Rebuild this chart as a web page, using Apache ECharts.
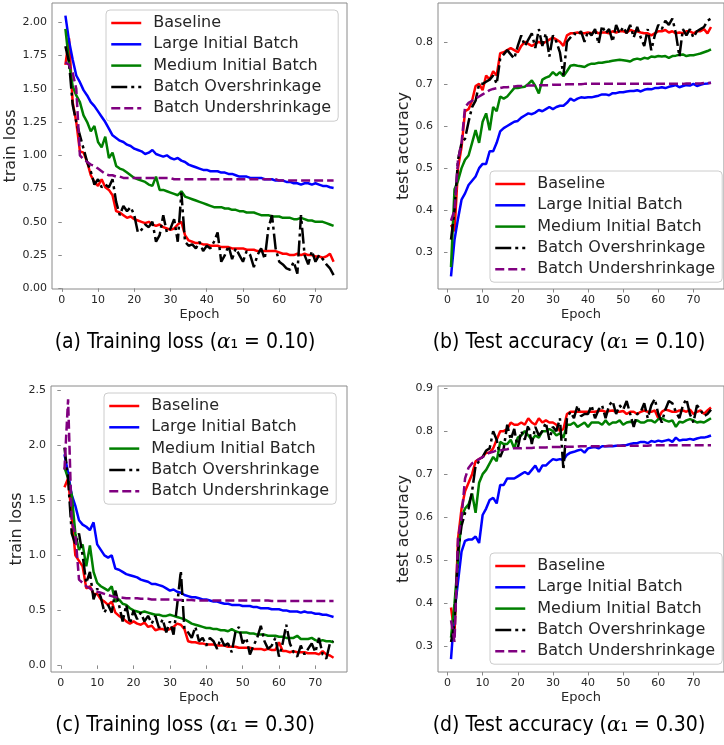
<!DOCTYPE html>
<html>
<head>
<meta charset="utf-8">
<script src="https://cdn.jsdelivr.net/npm/echarts@6/dist/echarts.min.js"></script>
<style>
  html, body { margin: 0; padding: 0; background: #ffffff; }
  #chart { width: 724px; height: 745px; }
</style>
</head>
<body>
<div id="chart"></div>
<script>
// ---- data -------------------------------------------------------------
const epochs = [
  1, 2, 3, 4, 5, 6, 7, 8, 9, 10, 11, 12, 13, 14, 15, 16, 17, 18, 19, 20,
  21, 22, 23, 24, 25, 26, 27, 28, 29, 30, 31, 32, 33, 34, 35, 36, 37, 38, 39, 40,
  41, 42, 43, 44, 45, 46, 47, 48, 49, 50, 51, 52, 53, 54, 55, 56, 57, 58, 59, 60,
  61, 62, 63, 64, 65, 66, 67, 68, 69, 70, 71, 72, 73, 74, 75
];

const seriesNames = ['Baseline', 'Large Initial Batch', 'Medium Initial Batch',
  'Batch Overshrinkage', 'Batch Undershrinkage'];

const epochTicks = [0, 10, 20, 30, 40, 50, 60, 70];
const lossTicksA = [0, 0.25, 0.5, 0.75, 1.0, 1.25, 1.5, 1.75, 2.0];
const accTicksB = [0.3, 0.4, 0.5, 0.6, 0.7, 0.8];
const lossTicksC = [0, 0.5, 1.0, 1.5, 2.0, 2.5];
const accTicksD = [0.3, 0.4, 0.5, 0.6, 0.7, 0.8, 0.9];

// (a) training loss, alpha1 = 0.10
const lossA_baseline = [
  1.68, 1.88, 1.40, 1.25, 1.03, 1.02, 0.95, 0.85, 0.80, 0.77,
  0.82, 0.76, 0.74, 0.70, 0.58, 0.57, 0.55, 0.53, 0.54, 0.52,
  0.51, 0.50, 0.49, 0.50, 0.48, 0.47, 0.48, 0.46, 0.45, 0.44,
  0.45, 0.48, 0.50, 0.40, 0.36, 0.35, 0.34, 0.34, 0.33, 0.33,
  0.32, 0.32, 0.32, 0.31, 0.31, 0.31, 0.30, 0.30, 0.30, 0.30,
  0.29, 0.29, 0.29, 0.28, 0.28, 0.28, 0.28, 0.28, 0.28, 0.27,
  0.26, 0.26, 0.25, 0.25, 0.26, 0.25, 0.26, 0.25, 0.25, 0.24,
  0.24, 0.23, 0.24, 0.26, 0.20
];
const lossA_large = [
  2.05, 1.86, 1.72, 1.60, 1.55, 1.49, 1.45, 1.40, 1.37, 1.33,
  1.29, 1.25, 1.20, 1.15, 1.13, 1.11, 1.10, 1.08, 1.07, 1.05,
  1.04, 1.03, 1.01, 1.02, 1.04, 1.01, 1.00, 0.99, 1.00, 0.98,
  0.97, 0.98, 0.96, 0.95, 0.93, 0.92, 0.91, 0.90, 0.89, 0.89,
  0.88, 0.88, 0.88, 0.87, 0.87, 0.86, 0.86, 0.85, 0.84, 0.84,
  0.84, 0.83, 0.83, 0.83, 0.83, 0.82, 0.82, 0.82, 0.81, 0.81,
  0.81, 0.80, 0.80, 0.79, 0.79, 0.78, 0.79, 0.79, 0.78, 0.79,
  0.78, 0.77, 0.77, 0.76, 0.755
];
const lossA_medium = [
  1.95, 1.70, 1.52, 1.45, 1.40, 1.30, 1.25, 1.18, 1.22, 1.10,
  1.06, 1.14, 0.98, 1.02, 0.92, 0.90, 0.89, 0.87, 0.85, 0.83,
  0.82, 0.81, 0.80, 0.78, 0.77, 0.84, 0.74, 0.74, 0.73, 0.72,
  0.71, 0.70, 0.73, 0.69, 0.68, 0.67, 0.66, 0.65, 0.64, 0.63,
  0.62, 0.61, 0.61, 0.61, 0.60, 0.60, 0.59, 0.59, 0.58, 0.58,
  0.57, 0.57, 0.57, 0.56, 0.55, 0.55, 0.55, 0.54, 0.54, 0.54,
  0.53, 0.53, 0.53, 0.52, 0.52, 0.53, 0.52, 0.51, 0.51, 0.50,
  0.50, 0.50, 0.49, 0.48, 0.47
];
const lossA_over = [
  1.82, 1.70, 1.38, 1.25, 1.15, 1.05, 0.95, 0.88, 0.78, 0.82,
  0.76, 0.78, 0.76, 0.82, 0.65, 0.55, 0.62, 0.58, 0.61, 0.55,
  0.42, 0.44, 0.48, 0.46, 0.50, 0.35, 0.40, 0.55, 0.42, 0.45,
  0.52, 0.35, 0.72, 0.35, 0.32, 0.33, 0.30, 0.35, 0.28, 0.32,
  0.30, 0.35, 0.42, 0.20, 0.25, 0.32, 0.22, 0.30, 0.25, 0.20,
  0.28, 0.25, 0.16, 0.25, 0.30, 0.22, 0.45, 0.55, 0.30, 0.20,
  0.18, 0.15, 0.14, 0.20, 0.11, 0.55, 0.25, 0.18, 0.28, 0.20,
  0.25, 0.22, 0.18, 0.15, 0.10
];
const lossA_under = [
  1.70, 1.68, 1.62, 1.50, 1.00, 0.97, 0.95, 0.93, 0.92, 0.90,
  0.88, 0.86, 0.85, 0.85, 0.84, 0.84, 0.83, 0.83, 0.83, 0.83,
  0.83, 0.83, 0.83, 0.83, 0.83, 0.83, 0.83, 0.83, 0.83, 0.83,
  0.82, 0.82, 0.82, 0.82, 0.82, 0.82, 0.82, 0.82, 0.82, 0.82,
  0.82, 0.82, 0.82, 0.82, 0.82, 0.82, 0.82, 0.82, 0.82, 0.82,
  0.82, 0.82, 0.82, 0.82, 0.82, 0.82, 0.82, 0.82, 0.82, 0.81,
  0.81, 0.81, 0.81, 0.81, 0.81, 0.81, 0.81, 0.81, 0.81, 0.81,
  0.81, 0.81, 0.81, 0.81, 0.81
];

// (b) test accuracy, alpha1 = 0.10
const accB_baseline = [
  0.365, 0.35, 0.50, 0.55, 0.635, 0.64, 0.66, 0.695, 0.70, 0.685,
  0.72, 0.71, 0.73, 0.72, 0.773, 0.775, 0.78, 0.785, 0.78, 0.775,
  0.79, 0.80, 0.795, 0.79, 0.795, 0.80, 0.795, 0.80, 0.805, 0.81,
  0.805, 0.80, 0.79, 0.815, 0.82, 0.82, 0.822, 0.82, 0.82, 0.822,
  0.82, 0.825, 0.82, 0.822, 0.822, 0.82, 0.825, 0.822, 0.825, 0.825,
  0.822, 0.828, 0.825, 0.825, 0.822, 0.82, 0.82, 0.815, 0.82, 0.825,
  0.825, 0.828, 0.822, 0.825, 0.82, 0.822, 0.82, 0.825, 0.825, 0.82,
  0.825, 0.825, 0.83, 0.82, 0.835
];
const accB_large = [
  0.243, 0.33, 0.38, 0.425, 0.44, 0.46, 0.47, 0.48, 0.50, 0.51,
  0.51, 0.54, 0.54, 0.56, 0.587, 0.595, 0.60, 0.605, 0.61, 0.612,
  0.62, 0.625, 0.63, 0.628, 0.632, 0.638, 0.635, 0.64, 0.645, 0.64,
  0.645, 0.648, 0.648, 0.655, 0.665, 0.66, 0.665, 0.668, 0.667, 0.668,
  0.668, 0.67, 0.672, 0.675, 0.675, 0.673, 0.678, 0.678, 0.68, 0.68,
  0.682, 0.683, 0.683, 0.685, 0.682, 0.686, 0.688, 0.687, 0.69, 0.69,
  0.692, 0.69, 0.693, 0.695, 0.697, 0.692, 0.695, 0.697, 0.696, 0.700,
  0.695, 0.698, 0.700, 0.701, 0.703
];
const accB_medium = [
  0.265, 0.45, 0.47, 0.50, 0.52, 0.53, 0.56, 0.59, 0.56, 0.61,
  0.63, 0.59, 0.645, 0.635, 0.67, 0.665, 0.67, 0.68, 0.69, 0.69,
  0.692, 0.693, 0.70, 0.708, 0.695, 0.677, 0.71, 0.715, 0.718, 0.728,
  0.72, 0.728, 0.718, 0.73, 0.743, 0.745, 0.743, 0.742, 0.74, 0.745,
  0.748, 0.748, 0.75, 0.75, 0.752, 0.753, 0.755, 0.756, 0.757, 0.756,
  0.755, 0.753, 0.758, 0.76, 0.758, 0.762, 0.76, 0.765, 0.764, 0.766,
  0.765, 0.766, 0.762, 0.766, 0.767, 0.769, 0.77, 0.766, 0.768, 0.768,
  0.77, 0.772, 0.775, 0.778, 0.782
];
const accB_over = [
  0.33, 0.40, 0.52, 0.56, 0.57, 0.61, 0.645, 0.66, 0.70, 0.70,
  0.705, 0.71, 0.72, 0.70, 0.76, 0.77, 0.78, 0.77, 0.76, 0.79,
  0.815, 0.79, 0.805, 0.82, 0.785, 0.83, 0.79, 0.82, 0.765, 0.815,
  0.80, 0.775, 0.72, 0.80, 0.81, 0.82, 0.815, 0.825, 0.80, 0.825,
  0.815, 0.83, 0.795, 0.838, 0.82, 0.83, 0.80, 0.84, 0.82, 0.835,
  0.82, 0.84, 0.81, 0.835, 0.81, 0.79, 0.83, 0.78, 0.815, 0.84,
  0.83, 0.85, 0.84, 0.855, 0.82, 0.765, 0.83, 0.815, 0.83, 0.81,
  0.825, 0.83, 0.835, 0.85, 0.855
];
const accB_under = [
  0.375, 0.40, 0.52, 0.56, 0.645, 0.655, 0.66, 0.665, 0.67, 0.675,
  0.68, 0.685, 0.688, 0.69, 0.69, 0.692, 0.692, 0.693, 0.694, 0.695,
  0.695, 0.695, 0.696, 0.696, 0.696, 0.697, 0.697, 0.697, 0.697, 0.698,
  0.698, 0.698, 0.698, 0.699, 0.699, 0.699, 0.699, 0.699, 0.70, 0.70,
  0.70, 0.70, 0.70, 0.70, 0.70, 0.70, 0.70, 0.70, 0.70, 0.70,
  0.70, 0.70, 0.70, 0.70, 0.70, 0.70, 0.70, 0.70, 0.70, 0.70,
  0.70, 0.70, 0.70, 0.70, 0.70, 0.70, 0.70, 0.701, 0.701, 0.701,
  0.701, 0.701, 0.702, 0.702, 0.702
];

// (c) training loss, alpha1 = 0.30
const lossC_baseline = [
  1.62, 1.70, 1.35, 1.00, 0.95, 0.90, 0.70, 0.72, 0.65, 0.65,
  0.60, 0.58, 0.55, 0.58, 0.48, 0.45, 0.43, 0.40, 0.38, 0.40,
  0.38, 0.37, 0.39, 0.35, 0.36, 0.32, 0.33, 0.33, 0.32, 0.33,
  0.35, 0.38, 0.37, 0.33, 0.22, 0.21, 0.21, 0.20, 0.20, 0.19,
  0.19, 0.19, 0.18, 0.18, 0.18, 0.17, 0.17, 0.17, 0.16, 0.16,
  0.16, 0.16, 0.15, 0.15, 0.15, 0.14, 0.15, 0.14, 0.14, 0.21,
  0.13, 0.13, 0.12, 0.13, 0.12, 0.12, 0.12, 0.11, 0.11, 0.11,
  0.10, 0.13, 0.10, 0.09, 0.07
];
const lossC_large = [
  1.92, 1.75, 1.55, 1.45, 1.32, 1.28, 1.26, 1.23, 1.30, 1.10,
  1.05, 1.00, 0.98, 1.00, 0.88, 0.87, 0.85, 0.83, 0.82, 0.81,
  0.80, 0.78, 0.77, 0.76, 0.74, 0.74, 0.73, 0.72, 0.70, 0.68,
  0.69, 0.67, 0.66, 0.64, 0.63, 0.62, 0.62, 0.61, 0.60, 0.60,
  0.59, 0.58, 0.58, 0.57, 0.56, 0.56, 0.55, 0.55, 0.55, 0.54,
  0.54, 0.54, 0.53, 0.53, 0.52, 0.52, 0.52, 0.51, 0.51, 0.51,
  0.50, 0.50, 0.49, 0.49, 0.49, 0.48, 0.49, 0.48, 0.48, 0.47,
  0.47, 0.46, 0.46, 0.45, 0.44
];
const lossC_medium = [
  1.80, 1.70, 1.55, 1.20, 1.05, 1.10, 0.90, 1.09, 0.85, 0.75,
  0.72, 0.70, 0.68, 0.72, 0.58, 0.60, 0.56, 0.55, 0.52, 0.50,
  0.49, 0.48, 0.49, 0.48, 0.47, 0.46, 0.46, 0.45, 0.45, 0.46,
  0.45, 0.44, 0.43, 0.42, 0.40, 0.38, 0.37, 0.36, 0.35, 0.34,
  0.34, 0.33, 0.33, 0.32, 0.32, 0.31, 0.33, 0.31, 0.30, 0.30,
  0.30, 0.29, 0.29, 0.28, 0.28, 0.28, 0.27, 0.27, 0.27, 0.26,
  0.26, 0.25, 0.25, 0.25, 0.27, 0.24, 0.24, 0.24, 0.25, 0.23,
  0.22, 0.23, 0.22, 0.22, 0.21
];
const lossC_over = [
  1.98, 1.70, 1.20, 1.10, 1.20, 1.00, 0.75, 0.85, 0.60, 0.70,
  0.62, 0.48, 0.55, 0.48, 0.68, 0.55, 0.40, 0.55, 0.38, 0.50,
  0.42, 0.48, 0.40, 0.45, 0.38, 0.45, 0.34, 0.42, 0.30, 0.40,
  0.28, 0.55, 0.86, 0.33, 0.30, 0.25, 0.35, 0.22, 0.25, 0.18,
  0.25, 0.22, 0.15, 0.25, 0.18, 0.20, 0.12, 0.30, 0.35, 0.20,
  0.25, 0.10, 0.18, 0.25, 0.36, 0.22, 0.15, 0.18, 0.25, 0.08,
  0.20, 0.37, 0.20, 0.12, 0.08, 0.18, 0.10, 0.15, 0.20, 0.12,
  0.25, 0.10, 0.06, 0.20, 0.22
];
const lossC_under = [
  1.78, 2.42, 1.30, 1.20, 0.78, 0.75, 0.72, 0.70, 0.68, 0.67,
  0.66, 0.65, 0.64, 0.63, 0.62, 0.62, 0.615, 0.61, 0.61, 0.61,
  0.61, 0.605, 0.605, 0.605, 0.60, 0.60, 0.60, 0.60, 0.60, 0.60,
  0.60, 0.595, 0.595, 0.595, 0.595, 0.595, 0.59, 0.59, 0.59, 0.59,
  0.59, 0.59, 0.59, 0.59, 0.59, 0.59, 0.59, 0.59, 0.59, 0.59,
  0.59, 0.59, 0.59, 0.59, 0.59, 0.59, 0.59, 0.585, 0.585, 0.585,
  0.585, 0.585, 0.585, 0.585, 0.585, 0.585, 0.585, 0.585, 0.585, 0.585,
  0.585, 0.585, 0.585, 0.585, 0.585
];

// (d) test accuracy, alpha1 = 0.30
const accD_baseline = [
  0.39, 0.33, 0.55, 0.62, 0.66, 0.68, 0.70, 0.73, 0.735, 0.74,
  0.75, 0.75, 0.76, 0.78, 0.80, 0.80, 0.805, 0.82, 0.815, 0.815,
  0.82, 0.815, 0.83, 0.82, 0.815, 0.83, 0.82, 0.825, 0.82, 0.82,
  0.815, 0.80, 0.805, 0.84, 0.845, 0.845, 0.845, 0.845, 0.845, 0.845,
  0.845, 0.845, 0.847, 0.848, 0.845, 0.847, 0.848, 0.845, 0.845, 0.847,
  0.84, 0.845, 0.845, 0.84, 0.845, 0.848, 0.845, 0.845, 0.848, 0.83,
  0.845, 0.85, 0.848, 0.845, 0.845, 0.848, 0.848, 0.845, 0.85, 0.84,
  0.845, 0.848, 0.84, 0.848, 0.855
];
const accD_large = [
  0.27, 0.38, 0.45, 0.52, 0.545, 0.548, 0.548, 0.555, 0.54, 0.605,
  0.62, 0.64, 0.645, 0.632, 0.675, 0.675, 0.69, 0.69, 0.69, 0.695,
  0.70, 0.705, 0.70, 0.71, 0.72, 0.705, 0.72, 0.72, 0.728, 0.735,
  0.733, 0.735, 0.733, 0.745, 0.75, 0.752, 0.755, 0.757, 0.75, 0.76,
  0.762, 0.763, 0.76, 0.765, 0.765, 0.765, 0.765, 0.766, 0.766, 0.767,
  0.768, 0.77, 0.772, 0.772, 0.775, 0.775, 0.772, 0.777, 0.775, 0.778,
  0.776, 0.778, 0.78, 0.775, 0.785, 0.778, 0.78, 0.78, 0.782, 0.78,
  0.783, 0.785, 0.785, 0.787, 0.79
];
const accD_medium = [
  0.32, 0.40, 0.50, 0.60, 0.62, 0.63, 0.655, 0.61, 0.68, 0.70,
  0.71, 0.725, 0.74, 0.73, 0.775, 0.77, 0.77, 0.78, 0.76, 0.785,
  0.79, 0.80, 0.79, 0.78, 0.79, 0.785, 0.80, 0.80, 0.805, 0.80,
  0.79, 0.795, 0.785, 0.815, 0.815, 0.82, 0.81, 0.815, 0.82, 0.81,
  0.82, 0.82, 0.82, 0.815, 0.825, 0.815, 0.82, 0.82, 0.825, 0.815,
  0.82, 0.822, 0.82, 0.825, 0.82, 0.82, 0.825, 0.825, 0.82, 0.828,
  0.83, 0.825, 0.822, 0.825, 0.81, 0.822, 0.82, 0.825, 0.828, 0.825,
  0.82, 0.822, 0.82, 0.825, 0.83
];
const accD_over = [
  0.31, 0.35, 0.52, 0.58, 0.61, 0.62, 0.66, 0.72, 0.73, 0.74,
  0.755, 0.76, 0.80, 0.78, 0.74, 0.76, 0.815, 0.78, 0.805, 0.76,
  0.80, 0.78, 0.815, 0.77, 0.81, 0.79, 0.80, 0.82, 0.78, 0.81,
  0.80, 0.83, 0.71, 0.83, 0.845, 0.83, 0.86, 0.835, 0.84, 0.84,
  0.86, 0.83, 0.85, 0.86, 0.83, 0.86, 0.87, 0.84, 0.86, 0.85,
  0.87, 0.84, 0.81, 0.84, 0.845, 0.865, 0.83, 0.86, 0.875, 0.84,
  0.82, 0.85, 0.87, 0.865, 0.845, 0.83, 0.86, 0.875, 0.84, 0.82,
  0.86, 0.85, 0.835, 0.84, 0.85
];
const accD_under = [
  0.36, 0.31, 0.55, 0.60, 0.69, 0.715, 0.725, 0.73, 0.735, 0.74,
  0.745, 0.75, 0.752, 0.755, 0.755, 0.757, 0.758, 0.76, 0.76, 0.76,
  0.76, 0.761, 0.761, 0.761, 0.762, 0.762, 0.762, 0.762, 0.763, 0.763,
  0.763, 0.763, 0.764, 0.764, 0.764, 0.764, 0.764, 0.765, 0.765, 0.765,
  0.765, 0.765, 0.765, 0.765, 0.765, 0.766, 0.766, 0.766, 0.766, 0.766,
  0.766, 0.766, 0.766, 0.766, 0.766, 0.766, 0.766, 0.767, 0.767, 0.767,
  0.767, 0.767, 0.767, 0.767, 0.767, 0.767, 0.767, 0.767, 0.767, 0.767,
  0.767, 0.767, 0.767, 0.767, 0.767
];

// ---- styling ----------------------------------------------------------
const seriesColors = ['#ff0000', '#0000ff', '#008000', '#000000', '#800080'];
const seriesDashes = ['solid', 'solid', 'solid', [16, 4, 3, 4], [9, 4]];
const AXIS_FONT = 'DejaVu Sans, Liberation Sans, sans-serif';
const CAPTION_FONT = '"Liberation Sans Narrow", "DejaVu Sans Condensed", "Noto Sans", sans-serif';
const FRAME = '#8a8a8a';
const TEXT = '#262626';

const panels = [
  {
    grid: { left: 52, top: 3, width: 295, height: 286 },
    yMin: -0.005, yMax: 2.145, yTicks: lossTicksA, digits: 2,
    yName: 'train loss', yGap: 32,
    legendPos: { left: 106, top: 10 },
    caption: { x: 185, y: 343, tag: '(a) Training loss (', val: '₁ = 0.10)' },
    values: [lossA_baseline, lossA_large, lossA_medium, lossA_over, lossA_under]
  },
  {
    grid: { left: 438, top: 3, width: 288, height: 286 },
    yMin: 0.213, yMax: 0.892, yTicks: accTicksB, digits: 1,
    yName: 'test accuracy', yGap: 25,
    legendPos: { left: 490, top: 171 },
    caption: { x: 569, y: 343, tag: '(b) Test accuracy (', val: '₁ = 0.10)' },
    values: [accB_baseline, accB_large, accB_medium, accB_over, accB_under]
  },
  {
    grid: { left: 51, top: 386, width: 296, height: 286 },
    yMin: -0.06, yMax: 2.54, yTicks: lossTicksC, digits: 1,
    yName: 'train loss', yGap: 25,
    legendPos: { left: 104, top: 393 },
    caption: { x: 185, y: 726, tag: '(c) Training loss (', val: '₁ = 0.30)' },
    values: [lossC_baseline, lossC_large, lossC_medium, lossC_over, lossC_under]
  },
  {
    grid: { left: 438, top: 386, width: 288, height: 286 },
    yMin: 0.240, yMax: 0.905, yTicks: accTicksD, digits: 1,
    yName: 'test accuracy', yGap: 25,
    legendPos: { left: 490, top: 553 },
    caption: { x: 569, y: 726, tag: '(d) Test accuracy (', val: '₁ = 0.30)' },
    values: [accD_baseline, accD_large, accD_medium, accD_over, accD_under]
  }
];

// ---- option ------------------------------------------------------------
const option = {
  animation: false,
  backgroundColor: '#ffffff',
  grid: [],
  xAxis: [],
  yAxis: [],
  legend: [],
  series: [],
  graphic: []
};

panels.forEach((p, k) => {
  option.grid.push(Object.assign({
    show: true, borderColor: FRAME, borderWidth: 1, backgroundColor: '#ffffff'
  }, p.grid));

  option.xAxis.push({
    type: 'value', gridIndex: k, min: -2.7, max: 78.7,
    name: 'Epoch', nameLocation: 'middle', nameGap: 19,
    nameTextStyle: { fontFamily: AXIS_FONT, fontSize: 13, color: TEXT },
    axisLine: { show: false },
    splitLine: { show: false },
    axisTick: { show: true, inside: false, length: 3.5, customValues: epochTicks,
      lineStyle: { color: FRAME, width: 1 } },
    axisLabel: { show: true, margin: 6, customValues: epochTicks,
      fontFamily: AXIS_FONT, fontSize: 11, color: TEXT }
  });

  option.yAxis.push({
    type: 'value', gridIndex: k, min: p.yMin, max: p.yMax,
    name: p.yName, nameLocation: 'middle', nameGap: p.yGap, nameRotate: 90,
    nameTextStyle: { fontFamily: AXIS_FONT, fontSize: 16, color: TEXT },
    axisLine: { show: false },
    splitLine: { show: false },
    axisTick: { show: true, inside: false, length: 3.5, customValues: p.yTicks,
      lineStyle: { color: FRAME, width: 1 } },
    axisLabel: { show: true, margin: 5, customValues: p.yTicks,
      fontFamily: AXIS_FONT, fontSize: 11, color: TEXT,
      formatter: v => Number(v).toFixed(p.digits) }
  });

  seriesNames.forEach((name, s) => {
    option.series.push({
      type: 'line', name: name, xAxisIndex: k, yAxisIndex: k,
      data: epochs.map((e, i) => [e, p.values[s][i]]),
      symbol: 'none', showSymbol: false,
      lineStyle: { color: seriesColors[s], width: 2.5, type: seriesDashes[s], cap: 'butt' },
      itemStyle: { color: seriesColors[s] },
      emphasis: { disabled: true },
      z: 2 + s
    });
  });

  option.legend.push({
    orient: 'vertical',
    left: p.legendPos.left, top: p.legendPos.top,
    itemWidth: 30, itemHeight: 14, itemGap: 5.3,
    padding: [5, 7, 5, 4],
    backgroundColor: 'rgba(255,255,255,0.85)',
    borderColor: '#cccccc', borderWidth: 1, borderRadius: 4,
    selectedMode: false,
    textStyle: { fontFamily: AXIS_FONT, fontSize: 16, color: TEXT, lineHeight: 16,
      padding: [0, 0, 0, 7] },
    // only the line sample is shown, the marker in its middle is hidden
    itemStyle: { opacity: 0, borderWidth: 0 },
    lineStyle: { width: 2.5 },
    z: 20,
    data: seriesNames.slice()
  });

  option.graphic.push({
    type: 'text', x: p.caption.x, y: p.caption.y,
    style: {
      text: '{n|' + p.caption.tag + '}{a|α}{n|' + p.caption.val + '}',
      align: 'center', verticalAlign: 'middle',
      rich: {
        n: { fontFamily: CAPTION_FONT, fontSize: 21, fill: '#000000' },
        a: { fontFamily: 'DejaVu Serif, serif', fontStyle: 'italic', fontSize: 20, fill: '#000000' }
      }
    }
  });
});

const chart = echarts.init(document.getElementById('chart'), null, { renderer: 'canvas' });
chart.setOption(option);
</script>
</body>
</html>
